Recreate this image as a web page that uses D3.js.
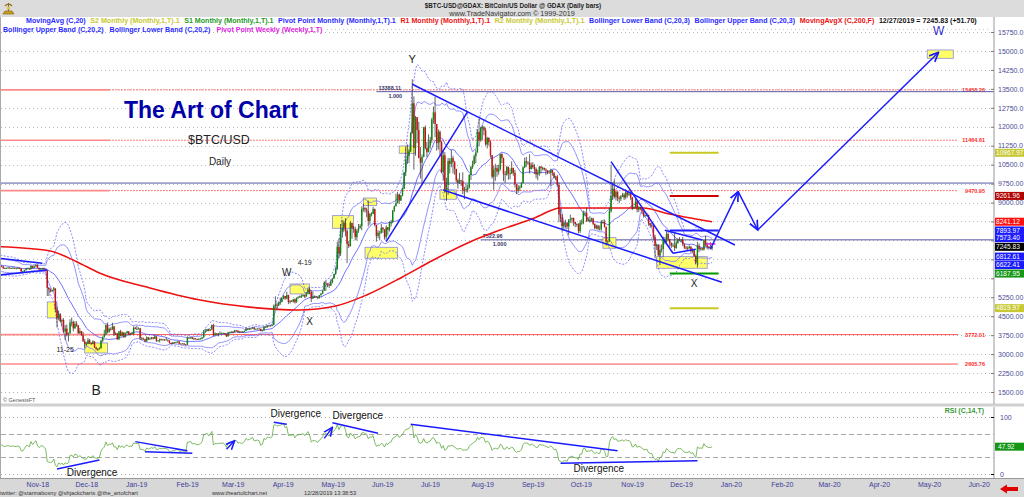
<!DOCTYPE html>
<html><head><meta charset="utf-8">
<script src="https://cdn.jsdelivr.net/npm/d3@7"></script>
<style>body{margin:0;background:#fff}svg{display:block}text{font-family:"Liberation Sans",Arial,sans-serif}</style>
</head><body><svg id="c" width="1024" height="497"></svg>
<script>
// ---- daily bars [high, low, close] per month (open = previous close) ----
const sep18=[[6500,6130,6340],[6530,6330,6490],[6780,6480,6760],[6820,6640,6710],[6780,6660,6700],[6730,6560,6590],[6590,6350,6440],[6550,6400,6460],[6700,6440,6680],[6800,6590,6630],[6630,6480,6600],[6640,6560,6620]];
const oct18=[[6670,6540,6590],[6610,6480,6520],[6530,6410,6480],[6610,6470,6580],[6660,6550,6630],[6640,6550,6570],[6620,6540,6600],[6700,6580,6650],[6660,6600,6630],[6630,6480,6590],[6590,6200,6250],[6330,6220,6300],[6340,6280,6300],[6400,6280,6300],[6950,6300,6620],[6690,6450,6480],[6510,6440,6460],[6490,6370,6400],[6430,6370,6390],[6420,6380,6410],[6450,6400,6420],[6440,6380,6400],[6420,6370,6400],[6460,6390,6410],[6420,6380,6390],[6420,6370,6390],[6430,6380,6410],[6420,6370,6390],[6400,6230,6270],[6300,6250,6270],[6340,6250,6320]];
const nov18=[[6400,6310,6380],[6420,6370,6390],[6400,6330,6360],[6500,6350,6490],[6500,6390,6420],[6480,6400,6470],[6560,6460,6530],[6550,6390,6410],[6420,6320,6350],[6400,6340,6390],[6410,6330,6400],[6420,6330,6360],[6370,6280,6310],[6320,5300,5620],[5650,5300,5560],[5600,5450,5500],[5540,5450,5520],[5660,5500,5600],[5600,4660,4770],[4880,4050,4410],[4720,4340,4580],[4620,4270,4290],[4410,4100,4350],[4420,3850,3900],[4150,3550,4010],[4170,3700,3770],[3850,3500,3830],[4380,3800,4250],[4450,4100,4270],[4320,3900,4020]];
const dec18=[[4300,4000,4200],[4300,4080,4140],[4150,3800,3830],[4030,3790,3910],[3920,3730,3750],[3880,3480,3510],[3600,3250,3400],[3480,3320,3400],[3640,3390,3550],[3600,3400,3440],[3460,3360,3400],[3550,3390,3500],[3510,3240,3260],[3290,3160,3200],[3230,3128,3190],[3270,3180,3230],[3570,3220,3530],[3700,3470,3680],[3960,3650,3780],[4180,3760,4150],[4250,3820,3880],[4050,3840,4000],[4060,3930,3980],[4240,3960,4100],[4110,3720,3800],[3870,3750,3820],[3830,3560,3590],[3910,3560,3900],[3960,3700,3730],[3890,3700,3860],[3860,3640,3690]];
const jan19=[[3850,3660,3830],[3920,3800,3900],[3900,3750,3780],[3840,3740,3820],[3880,3780,3790],[4100,3770,4040],[4080,3980,4000],[4120,3950,4000],[4060,3980,4020],[4040,3570,3620],[3680,3560,3620],[3650,3560,3590],[3610,3470,3500],[3700,3490,3660],[3680,3560,3580],[3660,3570,3620],[3680,3580,3660],[3670,3580,3610],[3760,3600,3700],[3710,3480,3530],[3560,3500,3540],[3620,3460,3590],[3610,3540,3560],[3600,3540,3580],[3590,3530,3570],[3660,3560,3570],[3580,3490,3540],[3540,3410,3440],[3450,3380,3400],[3480,3390,3460],[3480,3420,3440]];
const feb19=[[3490,3430,3470],[3510,3450,3500],[3510,3400,3410],[3430,3390,3400],[3430,3390,3420],[3430,3360,3380],[3400,3350,3370],[3700,3360,3640],[3660,3620,3640],[3680,3610,3670],[3670,3590,3600],[3650,3560,3620],[3640,3580,3600],[3610,3560,3580],[3630,3570,3590],[3640,3590,3610],[3680,3580,3660],[3950,3650,3900],[4000,3850,3920],[4000,3890,3980],[4000,3900,3930],[3990,3910,3980],[4170,3950,4140],[4200,3710,3740],[3860,3740,3820],[3830,3770,3800],[3840,3700,3820],[3900,3800,3820]];
const mar19=[[3860,3810,3830],[3850,3800,3830],[3840,3770,3790],[3810,3680,3700],[3880,3700,3860],[3890,3830,3870],[3910,3850,3880],[3920,3820,3870],[3950,3860,3940],[3950,3900,3930],[3940,3850,3870],[3900,3830,3890],[3900,3850,3870],[3920,3840,3880],[3930,3870,3920],[4060,3910,4010],[4010,3950,3980],[4040,3960,3990],[4030,3970,4020],[4070,4000,4050],[4070,3950,3990],[4010,3970,4000],[4020,3980,4010],[4020,3980,4000],[4010,3900,3920],[3960,3900,3940],[4100,3930,4080],[4090,4040,4060],[4150,4050,4130],[4140,4090,4130],[4140,4090,4120]];
const apr19=[[4180,4100,4150],[4960,4140,4900],[5290,4820,4960],[5040,4790,4920],[5080,4920,5040],[5240,4950,5060],[5240,5050,5210],[5340,5170,5300],[5300,5150,5200],[5470,5170,5340],[5350,4980,5060],[5140,5000,5100],[5140,5060,5090],[5180,5040,5170],[5200,5000,5050],[5240,5040,5230],[5290,5200,5240],[5320,5230,5290],[5360,5230,5290],[5360,5280,5340],[5350,5220,5280],[5450,5270,5400],[5620,5390,5560],[5640,5380,5460],[5530,5060,5200],[5480,5180,5280],[5320,5220,5290],[5310,5230,5260],[5280,5170,5220],[5340,5200,5330]];
const may19=[[5420,5320,5390],[5530,5380,5510],[5880,5500,5830],[5910,5500,5790],[5800,5650,5760],[5800,5620,5710],[5960,5700,5850],[6000,5800,5990],[6180,5990,6170],[6440,6140,6350],[7450,6350,7250],[7580,6800,6980],[8150,6880,7820],[8320,7620,8000],[8290,7850,8200],[8380,7660,7880],[7940,6600,7360],[7480,7200,7270],[8270,7270,8190],[8200,7560,7980],[8080,7800,7950],[8040,7500,7630],[7950,7500,7880],[8150,7800,8000],[8150,7960,8070],[8850,7900,8740],[8950,8630,8780],[8820,8600,8720],[8790,8420,8660],[9080,8050,8270],[8580,8120,8550]];
const jun19=[[8620,8450,8550],[8830,8540,8740],[8760,8050,8110],[8100,7450,7680],[7900,7580,7800],[7880,7500,7800],[8150,7770,8000],[8030,7800,7930],[7950,7530,7630],[8100,7530,8020],[8030,7700,7920],[8250,7850,8170],[8320,8050,8230],[8700,8180,8690],[8880,8630,8850],[9350,8850,8980],[9420,8980,9320],[9330,8940,9080],[9300,9060,9280],[9580,9250,9540],[10200,9540,10200],[11200,10050,10700],[11300,10530,10850],[11100,10560,11020],[11780,11000,11750],[13880,11720,12930],[13200,10300,11160],[12430,10850,12380],[12380,11350,11870],[12200,10750,10760]];
const jul19=[[11200,9950,10580],[10900,9730,10800],[11990,10790,11980],[12050,11100,11160],[11400,10800,10990],[11700,10990,11250],[11600,11130,11480],[12350,11350,12290],[12800,12120,12570],[13190,11580,12110],[12110,11050,11350],[11900,11100,11800],[11850,10850,11390],[11450,10170,10200],[11080,9860,10870],[11000,9380,9430],[9980,9070,9690],[10770,9300,10640],[10750,10150,10530],[11080,10400,10760],[10850,10150,10600],[10650,10100,10330],[10330,9800,9880],[9950,9550,9780],[10180,9740,9880],[9900,9650,9850],[10200,9330,9480],[9630,9130,9530],[9720,9400,9510],[9720,9400,9590],[10120,9550,10090]];
const aug19=[[10450,9890,10400],[10660,10330,10530],[10900,10500,10830],[11090,10560,10980],[11900,10980,11800],[12320,11220,11470],[12000,11400,11970],[12050,11480,11980],[12030,11660,11860],[11950,11250,11300],[11600,11140,11550],[11590,11250,11390],[11450,10780,10870],[10880,9950,10020],[10450,9500,10310],[10530,9860,10360],[10480,10020,10220],[10500,10100,10320],[10930,10270,10920],[10950,10560,10760],[10780,9850,10130],[10250,9780,10110],[10450,10060,10410],[10420,9900,10150],[10350,9920,10140],[10630,10140,10370],[10380,10060,10180],[10290,9600,9720],[9730,9330,9490],[9690,9380,9590],[9680,9450,9600]];
const sep19=[[9800,9580,9770],[10440,9760,10390],[10780,10360,10630],[10800,10410,10580],[10640,10490,10580],[10910,10150,10320],[10580,10320,10480],[10600,10340,10400],[10520,10130,10320],[10390,9960,10110],[10300,9880,10160],[10450,10060,10420],[10440,10160,10360],[10420,10270,10370],[10380,10260,10310],[10360,10080,10270],[10280,10120,10190],[10260,10150,10170],[10340,9630,10280],[10290,10060,10180],[10190,9950,9990],[10060,9880,10030],[10090,9650,9700],[9800,8220,8530],[8760,8220,8430],[8540,7860,8060],[8270,7900,8190],[8320,8010,8200],[8230,7950,8050],[8350,7720,8300]];
const oct19=[[8520,8200,8340],[8400,8180,8390],[8400,8080,8230],[8240,8030,8150],[8180,8040,8140],[8180,7780,7870],[8310,7790,8210],[8340,8120,8180],[8680,8140,8590],[8650,8460,8590],[8800,8230,8260],[8420,8250,8310],[8460,8200,8280],[8400,8250,8370],[8400,8100,8160],[8160,7930,7990],[8120,7940,8080],[8120,7900,7960],[8090,7890,7960],[8300,7880,8230],[8320,8160,8220],[8330,8010,8030],[8040,7300,7470],[7510,7360,7460],[8780,7440,8660],[10500,8600,9250],[9800,9100,9550],[9900,9150,9220],[9450,9080,9430],[9440,9050,9170],[9250,8970,9150]];
const nov19=[[9290,9060,9250],[9380,9210,9310],[9370,9100,9200],[9530,9130,9400],[9470,9200,9310],[9440,9260,9350],[9370,9110,9200],[9230,8700,8770],[8850,8750,8810],[9140,8800,9050],[9080,8610,8720],[8860,8620,8810],[8820,8690,8760],[8790,8560,8640],[8680,8400,8470],[8530,8440,8490],[8600,8450,8510],[8520,8080,8180],[8200,8000,8110],[8200,8030,8080],[8120,7530,7620],[7720,6800,7280],[7350,7120,7330],[7350,6870,6910],[7330,6520,7130],[7340,7020,7160],[7650,6850,7520],[7630,7350,7430],[7860,7410,7750],[7830,7460,7560]];
const dec19=[[7560,7250,7400],[7420,7200,7300],[7400,7250,7300],[7790,7080,7200],[7490,7170,7400],[7580,7370,7540],[7630,7490,7510],[7560,7420,7520],[7640,7280,7340],[7380,7160,7220],[7280,7130,7200],[7270,7090,7190],[7310,7180,7250],[7270,7020,7070],[7190,7020,7110],[7140,6850,6880],[6950,6560,6620],[7440,6430,7290],[7380,7040,7150],[7220,7100,7190],[7190,7100,7140],[7520,7100,7510],[7690,7260,7320],[7420,7150,7250],[7280,7140,7200],[7430,7150,7194.13],[7270,7110,7245.83]];
const monthStarts=[["2018-09-19",sep18],["2018-10-01",oct18],["2018-11-01",nov18],["2018-12-01",dec18],["2019-01-01",jan19],["2019-02-01",feb19],["2019-03-01",mar19],["2019-04-01",apr19],["2019-05-01",may19],["2019-06-01",jun19],["2019-07-01",jul19],["2019-08-01",aug19],["2019-09-01",sep19],["2019-10-01",oct19],["2019-11-01",nov19],["2019-12-01",dec19]];

// 200-day moving average
const ma200=[["2018-10-16",7253],["2018-11-15",7094],["2018-12-02",6659],["2018-12-16",6212],["2019-01-16",5618],["2019-02-15",5150],["2019-03-18",4860],["2019-04-17",4747],["2019-05-10",4905],["2019-05-29",5341],["2019-06-20",6054],["2019-07-09",6726],["2019-07-30",7399],["2019-08-19",7913],["2019-09-09",8389],["2019-09-25",8784],["2019-10-21",8784],["2019-11-15",8784],["2019-11-28",8586],["2019-12-27",8241.12]];

// price axis ticks & levels
const priceTicks=d3.range(1500,15751,750);
const redLevels=[[13458.26,true],[11464.61,true],[9470.95,true],[3772.01,false],[2605.76,false]];
const fibLines=[["2019-06-04",13388.11,"13388.11"],["2019-08-07",7522.96,"7522.96"]];
const midLine=9770;
const monthlyPivots=[[10967.97,"#c8c820"],[9261.96,"#cc0000"],[7893.97,"#1f1fff"],[6187.95,"#009900"],[4819.97,"#c8c820"]];
const weeklyPivot=[["2019-12-23","2019-12-29",7360]];
// last values shown on the price axis: value, label position value, background
const lastLabels=[[10967.97,10967.97,"#c8c832"],[9261.96,9261.96,"#b00000"],[8241.12,8241.12,"#ff1010"],[7893.97,7893.97,"#1a1aff"],[7573.40,7590,"#1a1aff"],[7245.83,7245.83,"#000"],[6812.61,6860,"#1a1aff"],[6622.41,6525,"#1a1aff"],[6187.95,6187.95,"#169616"],[4819.97,4819.97,"#c8c832"]];

// annotations
const hiBoxes=[["2018-11-14","2018-11-20",5064,4431],["2018-12-07","2018-12-21",3441,3045],["2019-04-12","2019-04-24",5776,5380],["2019-05-08","2019-05-21",8480,7981],["2019-05-27","2019-06-04",9180,8875],["2019-05-28","2019-06-17",7229,6794],["2019-06-18","2019-06-28",11238,10949],["2019-07-13","2019-07-23",9497,9129],["2019-10-21","2019-10-29",7609,7189],["2019-11-23","2019-12-24",6857,6398],["2020-05-07","2020-05-23",15038,14709]];
const trendLines=[[["2018-10-16",6793],["2018-11-11",6596]],[["2018-10-16",6132],["2018-11-14",6330]],[["2019-06-26",13680],["2020-01-10",7320]],[["2019-07-15",9497],["2020-01-02",5844]],[["2019-06-10",7450],["2019-07-30",12596]],[["2019-10-26",10617],["2019-12-03",6992]],[["2019-11-28",7900],["2019-12-21",7520]],[["2019-12-03",6992],["2019-12-17",7150]]];
const projPath=[["2019-12-26",7161],["2020-01-12",9429],["2020-01-24",7913],["2020-05-14",14947]];
const priceLabels=[["Y","2019-06-26",14681,11,"#222"],["W","2019-04-10",6212,10,"#222"],["4-19","2019-04-21",6607,7,"#222"],["X","2019-04-24",4272,10,"#222"],["11-25","2018-11-25",3164,7,"#222"],["B","2018-12-14",1581,14,"#222"],["X","2019-12-16",5776,10,"#222"],["W","2020-05-14",15790,12,"#2a2ad0"]];
const rsiLines=[[["2018-11-20",8.8],["2018-12-16",24.6]],[["2019-01-07",56.7],["2019-02-08",40.9]],[["2019-01-13",39.1],["2019-02-11",36.3]],[["2019-04-02",90.7],["2019-04-10",87.2]],[["2019-05-08",90],["2019-06-05",71.4]],[["2019-06-25",87.2],["2019-10-30",40.9]],[["2019-09-25",18.8],["2019-12-18",23.3]]];
const rsiArrows=[[["2019-03-04",43.3],["2019-03-09",58.4]],[["2019-05-03",62.6],["2019-05-08",81.9]]];
const rsiTexts=[["2018-11-26",3.5],["2019-03-31",107],["2019-05-08",103.5],["2019-10-03",8.8]];

const legend1=[["MovingAvg (C,20)","#2b2bff"],["S2 Monthly (Monthly,1,T).1","#c8c832"],["S1 Monthly (Monthly,1,T).1","#1e9a1e"],["Pivot Point Monthly (Monthly,1,T).1","#2b2bff"],["R1 Monthly (Monthly,1,T).1","#ee1111"],["R2 Monthly (Monthly,1,T).1","#c8c832"],["Bollinger Lower Band (C,20,3)","#2b2bff"],["Bollinger Upper Band (C,20,3)","#2b2bff"],["MovingAvgX (C,200,F)","#ee1111"],["12/27/2019 = 7245.83 (+51.70)","#111"]];
const legend2=[["Bollinger Upper Band (C,20,2)","#2b2bff"],["Bollinger Lower Band (C,20,2)","#2b2bff"],["Pivot Point Weekly (Weekly,1,T)","#dd22dd"]];

// ---- build ----
const D=s=>{const p=s.split("-").map(Number);return new Date(p[0],p[1]-1,p[2]);};
const bars=[];
monthStarts.forEach(([s,arr])=>arr.forEach((v,i)=>bars.push({date:d3.timeDay.offset(D(s),i),h:v[0],l:v[1],c:v[2]})));
bars.forEach((b,i)=>{b.o=i?bars[i-1].c:b.c;});
bars.forEach((b,i)=>{if(i<19)return;const w=bars.slice(i-19,i+1).map(d=>d.c);const m=d3.mean(w);const sd=Math.sqrt(d3.mean(w,v=>(v-m)*(v-m)));b.m=m;b.u2=m+2*sd;b.l2=m-2*sd;b.u3=m+3*sd;b.l3=m-3*sd;});
{let ag=0,al=0;for(let i=1;i<bars.length;i++){const ch=bars[i].c-bars[i-1].c,g=Math.max(ch,0),l=Math.max(-ch,0);if(i<=14){ag+=g/14;al+=l/14;if(i===14)bars[i].rsi=100-100/(1+ag/al);}else{ag=(ag*13+g)/14;al=(al*13+l)/14;bars[i].rsi=100-100/(1+ag/al);}}}

const PR=994;
const svg=d3.select("#c");
const x=d3.scaleTime().domain([new Date(2018,9,16),new Date(2020,5,17)]).range([0,PR]);
const y=d3.scaleLinear().domain([1500,15750]).range([392,32]);
const yr=d3.scaleLinear().domain([0,100]).range([474,417]);

svg.append("rect").attr("width",1024).attr("height",497).attr("fill","#fff");
svg.append("rect").attr("width",1024).attr("height",17).attr("fill","#dcdcdc");
svg.append("rect").attr("y",479).attr("width",1024).attr("height",18).attr("fill","#d8d8d8");
svg.append("rect").attr("y",403.5).attr("width",1024).attr("height",3).attr("fill","#d0d0d0");
svg.append("line").attr("x1",0.5).attr("x2",0.5).attr("y1",17).attr("y2",479).attr("stroke","#aaa");
svg.append("line").attr("x1",0).attr("x2",1024).attr("y1",478.5).attr("y2",478.5).attr("stroke","#999");

const defs=svg.append("defs");
defs.append("clipPath").attr("id","cm").append("rect").attr("x",1).attr("y",17).attr("width",PR-1).attr("height",386);
defs.append("clipPath").attr("id","cr").append("rect").attr("x",1).attr("y",407).attr("width",PR-1).attr("height",71);
defs.append("marker").attr("id","ar").attr("viewBox","0 0 10 10").attr("refX",9).attr("refY",5).attr("markerWidth",7).attr("markerHeight",7).attr("orient","auto")
  .append("path").attr("d","M0,1 L9,5 L0,9").attr("fill","none").attr("stroke","#1a1aff").attr("stroke-width",1.6);

const g=svg.append("g");
g.selectAll(".gl").data(priceTicks).join("line").attr("x1",1).attr("x2",PR).attr("y1",d=>Math.round(y(d))+0.5).attr("y2",d=>Math.round(y(d))+0.5).attr("stroke","#b8b8b8").attr("stroke-dasharray","1,3");
[[100,"1,3"],[70,"5,3"],[30,"5,3"],[0,"1,3"]].forEach(([v,da])=>g.append("line").attr("x1",1).attr("x2",PR).attr("y1",Math.round(yr(v))+0.5).attr("y2",Math.round(yr(v))+0.5).attr("stroke","#aaa").attr("stroke-dasharray",da));

const m=svg.append("g").attr("clip-path","url(#cm)");
const splitX=x(D("2018-12-22"));
redLevels.forEach(([v,dotted])=>{
  m.append("line").attr("x1",0).attr("x2",splitX).attr("y1",y(v)).attr("y2",y(v)).attr("stroke","#ff8a8a").attr("stroke-width",1.6);
  m.append("line").attr("x1",splitX).attr("x2",958).attr("y1",y(v)).attr("y2",y(v)).attr("stroke","#ff5050").attr("stroke-dasharray",dotted?"1.5,1.5":null);
  m.append("text").attr("x",985).attr("y",y(v)+2).attr("text-anchor","end").attr("font-size",5.5).attr("font-weight","bold").attr("fill","#ff2a2a").text(v.toFixed(2));
});
m.append("line").attr("x1",0).attr("x2",PR).attr("y1",y(midLine)).attr("y2",y(midLine)).attr("stroke","#5a5aa8").attr("stroke-width",1);
fibLines.forEach(([d,v,t])=>{
  m.append("line").attr("x1",x(D(d))).attr("x2",PR).attr("y1",y(v)).attr("y2",y(v)).attr("stroke","#5a5aa8").attr("stroke-width",1);
  m.append("text").attr("x",x(D(d))+2).attr("y",y(v)-2).attr("font-size",5.5).attr("font-weight","bold").attr("fill","#333366").text(t);
  m.append("text").attr("x",x(D(d))+12).attr("y",y(v)+6).attr("font-size",5.5).attr("font-weight","bold").attr("fill","#333366").text("1.000");
});
m.selectAll(".hb").data(hiBoxes).join("rect").attr("x",d=>x(D(d[0]))).attr("width",d=>x(D(d[1]))-x(D(d[0]))).attr("y",d=>y(d[2])).attr("height",d=>y(d[3])-y(d[2])).attr("fill","#ffff66").attr("stroke","#8a8ad8").attr("stroke-width",0.8);

const bb=bars.filter(b=>b.m!==undefined);
const ln=k=>d3.line().x(d=>x(d.date)).y(d=>y(d[k]));
["u3","l3"].forEach(k=>m.append("path").datum(bb).attr("d",ln(k)).attr("fill","none").attr("stroke","#6b6bff").attr("stroke-width",0.8).attr("stroke-dasharray","2,1.5"));
["u2","l2"].forEach(k=>m.append("path").datum(bb).attr("d",ln(k)).attr("fill","none").attr("stroke","#7777ff").attr("stroke-width",0.8));
m.append("path").datum(bb).attr("d",ln("m")).attr("fill","none").attr("stroke","#4a4aff").attr("stroke-width",0.8);
m.append("path").datum(ma200).attr("d",d3.line().x(d=>x(D(d[0]))).y(d=>y(d[1])).curve(d3.curveMonotoneX)).attr("fill","none").attr("stroke","#ee1111").attr("stroke-width",1.6);

const cg=m.append("g");
cg.selectAll("line").data(bars).join("line").attr("x1",d=>x(d.date)).attr("x2",d=>x(d.date)).attr("y1",d=>y(d.h)).attr("y2",d=>y(d.l)).attr("stroke","#222").attr("stroke-width",0.7);
cg.selectAll("rect").data(bars).join("rect").attr("x",d=>x(d.date)-0.7).attr("width",1.4).attr("y",d=>y(Math.max(d.o,d.c))).attr("height",d=>Math.max(0.8,Math.abs(y(d.o)-y(d.c)))).attr("fill",d=>d.c>=d.o?"#0a8a0a":"#cc1010");

monthlyPivots.forEach(([v,c])=>m.append("line").attr("x1",x(D("2019-12-01"))).attr("x2",x(D("2019-12-31"))).attr("y1",y(v)).attr("y2",y(v)).attr("stroke",c).attr("stroke-width",2));
weeklyPivot.forEach(([a,b,v])=>m.append("line").attr("x1",x(D(a))).attr("x2",x(D(b))).attr("y1",y(v)).attr("y2",y(v)).attr("stroke","#dd22dd").attr("stroke-width",1.5));

trendLines.forEach(s=>m.append("line").attr("x1",x(D(s[0][0]))).attr("y1",y(s[0][1])).attr("x2",x(D(s[1][0]))).attr("y2",y(s[1][1])).attr("stroke","#1a1aff").attr("stroke-width",1.5));
for(let i=0;i<projPath.length-1;i++){const a=projPath[i],b=projPath[i+1];
  m.append("line").attr("x1",x(D(a[0]))).attr("y1",y(a[1])).attr("x2",x(D(b[0]))).attr("y2",y(b[1])).attr("stroke","#1a1aff").attr("stroke-width",1.5).attr("marker-end","url(#ar)");}

priceLabels.forEach(([t,d,v,fs,c])=>m.append("text").attr("x",x(D(d))).attr("y",y(v)).attr("text-anchor","middle").attr("dominant-baseline","central").attr("font-size",fs).attr("fill",c).text(t));

svg.append("text").attr("x",211).attr("y",118).attr("text-anchor","middle").attr("font-size",23).attr("font-weight","bold").attr("fill","#0000a8").text("The Art of Chart");
svg.append("text").attr("x",219).attr("y",144).attr("text-anchor","middle").attr("font-size",12.5).attr("fill","#222").text("$BTC/USD");
svg.append("text").attr("x",220).attr("y",165).attr("text-anchor","middle").attr("font-size",10).attr("fill","#222").text("Daily");
svg.append("text").attr("x",3).attr("y",402).attr("font-size",5.5).attr("fill","#555").text("© GenesisFT");

svg.append("text").attr("x",513).attr("y",8).attr("text-anchor","middle").attr("font-size",6.3).attr("font-weight","bold").attr("fill","#222").text("$BTC-USD@GDAX:  BitCoin/US Dollar @ GDAX  (Daily bars)");
svg.append("text").attr("x",512).attr("y",15.5).attr("text-anchor","middle").attr("font-size",7.2).attr("fill","#333").text("www.TradeNavigator.com © 1999-2019");
const logo=svg.append("g").attr("transform","translate(2,2)");
logo.append("path").attr("d","M1,12 L12,12 L10,9 L3,9 Z").attr("fill","#c8a020").attr("stroke","#7a5a00").attr("stroke-width",0.6);
logo.append("path").attr("d","M6.5,9 L6.5,1 M3,4 Q6.5,0 10,4").attr("fill","none").attr("stroke","#8a6a10").attr("stroke-width",1.2);
logo.append("circle").attr("cx",6.5).attr("cy",6).attr("r",1.6).attr("fill","#e8c040");

const L1=svg.append("text").attr("x",26).attr("y",23.3).attr("font-size",7.1).attr("font-weight","bold");
legend1.forEach(([t,c],i)=>L1.append("tspan").attr("dx",i?4.6:0).attr("fill",c).text(t));
const L2=svg.append("text").attr("x",3).attr("y",32).attr("font-size",7.1).attr("font-weight","bold");
legend2.forEach(([t,c],i)=>L2.append("tspan").attr("dx",i?6:0).attr("fill",c).text(t));
svg.append("line").attr("x1",327).attr("x2",990).attr("y1",29.5).attr("y2",29.5).attr("stroke","#ccc").attr("stroke-dasharray","1,3");

const ax=svg.append("g").attr("transform",`translate(${PR},0)`).call(d3.axisRight(y).tickValues(priceTicks).tickSizeInner(-3).tickSizeOuter(0).tickPadding(4).tickFormat(d=>d>=10000?d.toFixed(1):d.toFixed(2)));
ax.select(".domain").attr("stroke","#999").attr("d","M0,17V404");
ax.selectAll("line").attr("stroke","#777");
ax.selectAll("text").attr("font-size",7).attr("fill","#4b4b96").attr("font-family","Liberation Sans, Arial");
// hide tick labels that sit under the value boxes
ax.selectAll(".tick").filter(d=>d>=6000&&d<=8250).select("text").attr("visibility","hidden");
const axr=svg.append("g").attr("transform",`translate(${PR},0)`).call(d3.axisRight(yr).tickValues([0,100]).tickSizeInner(-3).tickSizeOuter(0).tickPadding(6));
axr.select(".domain").attr("stroke","#999").attr("d","M0,407V478");
axr.selectAll("text").attr("font-size",7).attr("fill","#4b4b96").attr("font-family","Liberation Sans, Arial");
lastLabels.forEach(([v,pos,bg])=>{const yy=y(pos);
  svg.append("rect").attr("x",PR+1).attr("y",yy-4).attr("width",29).attr("height",8).attr("fill",bg);
  svg.append("text").attr("x",PR+2).attr("y",yy+2.3).attr("font-size",6.6).attr("fill","#fff").text(v.toFixed(2));});

const bx=svg.append("g").attr("transform","translate(0,479)").call(d3.axisBottom(x).ticks(d3.timeMonth.every(1)).tickFormat(d3.timeFormat("%b-%y")).tickSize(0).tickPadding(3));
bx.select(".domain").remove();
bx.selectAll("text").attr("text-anchor","start").attr("font-size",7).attr("fill","#3d3d99").attr("font-family","Liberation Sans, Arial");
svg.append("text").attr("x",0).attr("y",495).attr("font-family","Liberation Mono, monospace").attr("font-size",5.7).attr("fill","#333").text("twitter: @stannabosny @shjackcharts @the_artofchart");
svg.append("text").attr("x",212).attr("y",495).attr("font-family","Liberation Mono, monospace").attr("font-size",5.7).attr("fill","#333").text("www.theartofchart.net");
svg.append("text").attr("x",304).attr("y",495).attr("font-family","Liberation Mono, monospace").attr("font-size",5.7).attr("fill","#333").text("12/28/2019 13:38:53");
svg.append("path").attr("d","M1000,489 L1007,484.5 L1007,487 L1018,487 L1018,491 L1007,491 L1007,493.5 Z").attr("fill","#e00000");

const r=svg.append("g").attr("clip-path","url(#cr)");
r.append("path").datum(bars.filter(b=>b.rsi!==undefined)).attr("d",d3.line().x(d=>x(d.date)).y(d=>yr(d.rsi))).attr("fill","none").attr("stroke","#5aa83a").attr("stroke-width",0.8);
rsiLines.forEach(s=>r.append("line").attr("x1",x(D(s[0][0]))).attr("y1",yr(s[0][1])).attr("x2",x(D(s[1][0]))).attr("y2",yr(s[1][1])).attr("stroke","#1a1aff").attr("stroke-width",1.4));
rsiArrows.forEach(s=>r.append("line").attr("x1",x(D(s[0][0]))).attr("y1",yr(s[0][1])).attr("x2",x(D(s[1][0]))).attr("y2",yr(s[1][1])).attr("stroke","#1a1aff").attr("stroke-width",1.4).attr("marker-end","url(#ar)"));
rsiTexts.forEach(([d,v])=>r.append("text").attr("x",x(D(d))).attr("y",yr(v)).attr("dominant-baseline","central").attr("font-size",10).attr("fill","#111").text("Divergence"));
svg.append("text").attr("x",984).attr("y",413).attr("text-anchor","end").attr("font-size",7).attr("font-weight","bold").attr("fill","#3a9a3a").text("RSI (C,14,T)");
svg.append("rect").attr("x",PR+1).attr("y",yr(47.92)-4).attr("width",29).attr("height",8).attr("fill","#169616");
svg.append("text").attr("x",PR+4).attr("y",yr(47.92)+2.3).attr("font-size",6.6).attr("fill","#fff").text("47.92");
</script></body></html>
